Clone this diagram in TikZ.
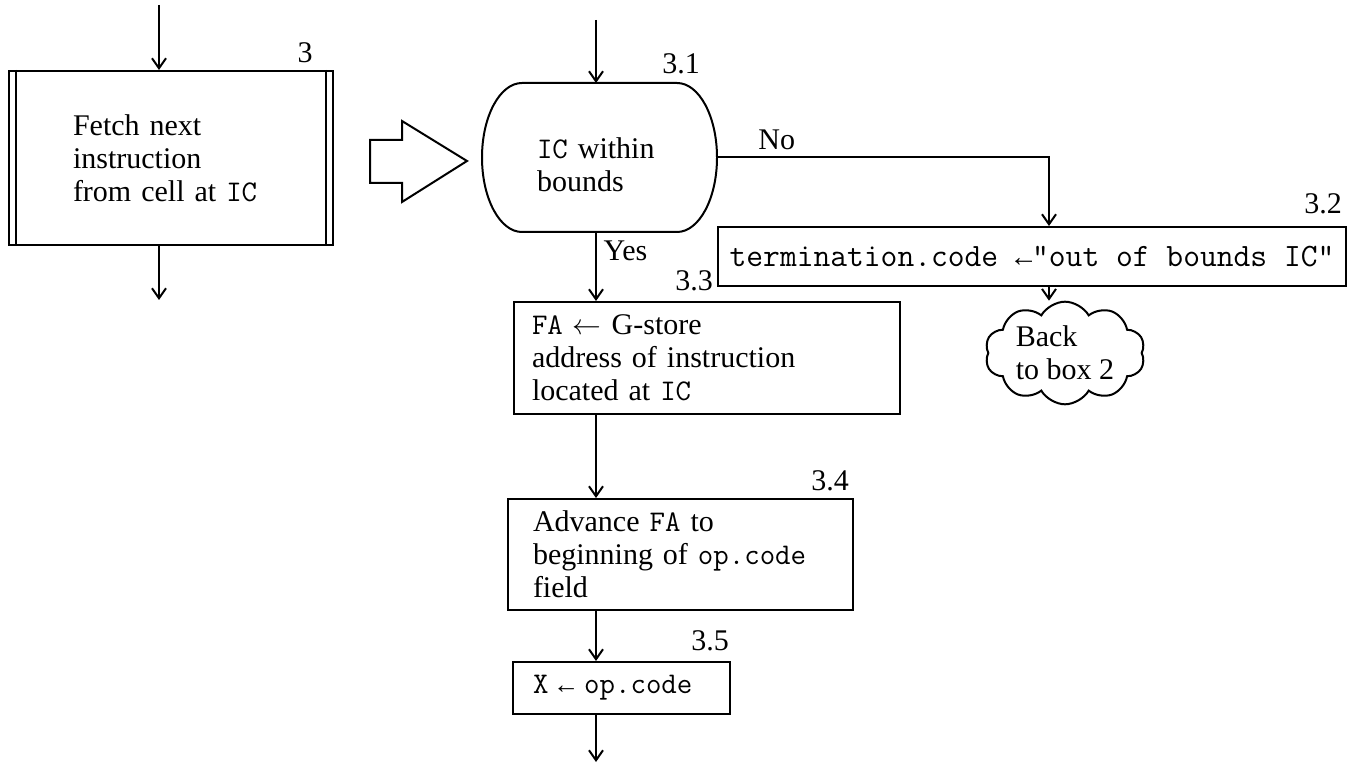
\documentclass[tikz,border=0pt]{standalone}
\usepackage{fontspec}
\setmainfont{Liberation Serif}
\newfontfamily\arrowfont{Liberation Mono}[Scale=0.875]
\newcommand{\tarr}{{\arrowfont ←}}
\usepackage{tikz}
\usetikzlibrary{shapes.symbols, arrows.meta, calc}

\begin{document}
\begin{tikzpicture}[x=0.5pt, y=-0.5pt, line width=1pt,
  font=\fontsize{15}{16.5}\selectfont,
  >={Straight Barb[length=5pt,width=7pt]},
  box/.style={draw, rectangle, align=left},
  cloudbox/.style={draw, cloud, cloud puffs=10, cloud puff arc=120, aspect=1.7, align=left, inner sep=0pt}]
\useasboundingbox (0,0) rectangle (1350,764);

% box 3, predefined process
\node[box, text width=98pt, inner xsep=32pt, minimum height=87pt] (b3) at (171,158) {Fetch next\\instruction\\from cell at \texttt{IC}};
\draw ([xshift=4pt]b3.north west) -- ([xshift=4pt]b3.south west);
\draw ([xshift=-4pt]b3.north east) -- ([xshift=-4pt]b3.south east);
\node (n3) at (305,53) {3};

% hollow arrow
\draw (370,140) -- (402,140) -- (402,121) -- (467,161) -- (402,202) -- (402,183) -- (370,183) -- cycle;

% test 3.1
\node[align=left, text width=62.5pt, inner xsep=27.5pt, minimum height=74.5pt, outer sep=0pt] (d31) at (599.5,157.5) {\rule{0pt}{17.3pt}\texttt{IC} within\\bounds};
\draw ([xshift=20pt]d31.north west) -- ([xshift=-20pt]d31.north east)
  arc[start angle=90, end angle=-90, x radius=20pt, y radius=37.25pt]
  -- ([xshift=20pt]d31.south west)
  arc[start angle=270, end angle=90, x radius=20pt, y radius=37.25pt] -- cycle;
\node (n31) at (681,64) {3.1};

\node[box, font=\fontsize{16.3}{18}\selectfont\ttfamily, minimum width=314pt, minimum height=29.5pt, inner xsep=2pt] (b32) at (1032,256.5) {termination.code \tarr"out of bounds IC"};
\node (n32) at (1323,204) {3.2};
\node[cloudbox, minimum width=80pt, minimum height=46.5pt] (cl) at (1065,353) {Back\\to box 2};

\node[box, text width=175pt, inner xsep=9pt, minimum height=56pt] (b33) at (707,358) {\texttt{FA} $\leftarrow$ G-store\\address of instruction\\located at \texttt{IC}};
\node (n33) at (694,281) {3.3};
\node[box, text width=147.5pt, inner xsep=12.5pt, minimum height=55.5pt] (b34) at (680.5,554.5) {Advance \texttt{FA} to\\beginning of \texttt{op.code}\\field};
\node (n34) at (830,481) {3.4};
\node[box, text width=88.5pt, inner xsep=10pt, minimum height=26pt] (b35) at (621.5,688) {\texttt{X \tarr{} op.code}};
\node (n35) at (710,641) {3.5};

\coordinate (in3) at (159,5);
\coordinate (out3) at (159,300);
\coordinate (in31) at (596,20);
\coordinate (col) at (596,762);
\coordinate (turn) at (1049,159);

\draw[->] (in3) -- (in3 |- b3.north);
\draw[->] (in3 |- b3.south) -- (out3);
\draw[->] (in31) -- (in31 |- d31.north);
\draw[->] (d31.east) -| node[pos=0.09, above] {No} (turn |- b32.north);
\draw[->] (turn |- b32.south) -- (turn |- cl.north);
\draw[->] (in31 |- d31.south) -- node[pos=0.27, right] {Yes} (in31 |- b33.north);
\draw[->] (in31 |- b33.south) -- (in31 |- b34.north);
\draw[->] (in31 |- b34.south) -- (in31 |- b35.north);
\draw[->] (in31 |- b35.south) -- (col);
\end{tikzpicture}
\end{document}
